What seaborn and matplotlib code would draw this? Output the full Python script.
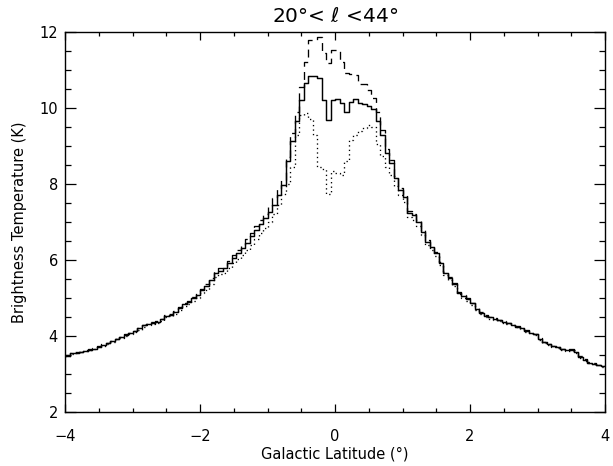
import numpy as np
import pandas as pd
import matplotlib
matplotlib.use("Agg")
import matplotlib.pyplot as plt
from matplotlib.ticker import MultipleLocator
import seaborn as sns

# Latitude profile binned in 4-arcmin steps from b = -4 to +4 deg (120 bins)
lat_min, lat_max, n_bins = -4.0, 4.0, 120

# Brightness temperature (K) per latitude bin
temp_solid = [
    3.48, 3.54, 3.56, 3.59, 3.61, 3.64, 3.67, 3.72, 3.77, 3.81,
    3.86, 3.93, 3.97, 4.03, 4.08, 4.13, 4.20, 4.28, 4.31, 4.34,
    4.38, 4.44, 4.53, 4.56, 4.64, 4.73, 4.84, 4.90, 4.99, 5.08,
    5.21, 5.32, 5.47, 5.67, 5.72, 5.78, 5.93, 6.05, 6.18, 6.32,
    6.46, 6.62, 6.80, 6.95, 7.10, 7.26, 7.46, 7.72, 7.98, 8.60,
    9.12, 9.65, 10.22, 10.66, 10.85, 10.84, 10.78, 10.21, 9.69, 10.22,
    10.23, 10.12, 9.89, 10.15, 10.25, 10.12, 10.11, 10.04, 9.98, 9.67,
    9.30, 8.82, 8.55, 8.15, 7.85, 7.67, 7.25, 7.18, 7.01, 6.74,
    6.48, 6.35, 6.18, 5.93, 5.65, 5.52, 5.37, 5.14, 5.05, 4.97,
    4.86, 4.72, 4.60, 4.52, 4.49, 4.46, 4.42, 4.38, 4.33, 4.30,
    4.25, 4.20, 4.13, 4.09, 4.04, 3.92, 3.83, 3.78, 3.74, 3.70,
    3.66, 3.63, 3.62, 3.58, 3.45, 3.37, 3.30, 3.27, 3.24, 3.20,
]

temp_dashed = [
    3.49, 3.54, 3.57, 3.59, 3.62, 3.65, 3.68, 3.73, 3.78, 3.82,
    3.87, 3.93, 3.98, 4.04, 4.09, 4.14, 4.21, 4.28, 4.32, 4.36,
    4.40, 4.46, 4.54, 4.58, 4.66, 4.76, 4.86, 4.93, 5.02, 5.12,
    5.25, 5.36, 5.52, 5.70, 5.78, 5.84, 5.98, 6.12, 6.26, 6.40,
    6.56, 6.72, 6.90, 7.06, 7.22, 7.40, 7.62, 7.86, 8.10, 8.72,
    9.35, 9.90, 10.55, 11.20, 11.78, 11.80, 11.88, 11.45, 11.18, 11.52,
    11.53, 11.22, 10.92, 10.90, 10.88, 10.62, 10.62, 10.48, 10.26, 9.90,
    9.42, 8.92, 8.62, 8.22, 7.90, 7.70, 7.30, 7.22, 7.04, 6.78,
    6.52, 6.38, 6.21, 5.96, 5.68, 5.55, 5.40, 5.17, 5.08, 5.00,
    4.88, 4.74, 4.62, 4.54, 4.50, 4.47, 4.43, 4.40, 4.35, 4.31,
    4.27, 4.21, 4.15, 4.10, 4.06, 3.94, 3.85, 3.79, 3.75, 3.71,
    3.67, 3.64, 3.66, 3.63, 3.48, 3.39, 3.32, 3.28, 3.25, 3.21,
]

temp_dotted = [
    3.47, 3.53, 3.55, 3.58, 3.60, 3.63, 3.66, 3.70, 3.75, 3.80,
    3.84, 3.91, 3.95, 4.01, 4.06, 4.11, 4.17, 4.25, 4.28, 4.31,
    4.35, 4.40, 4.49, 4.52, 4.59, 4.68, 4.78, 4.84, 4.92, 5.00,
    5.12, 5.22, 5.36, 5.55, 5.62, 5.66, 5.80, 5.92, 6.02, 6.14,
    6.26, 6.40, 6.55, 6.70, 6.85, 7.00, 7.20, 7.45, 7.75, 8.00,
    8.45, 9.30, 9.82, 9.88, 9.70, 9.30, 8.45, 8.40, 7.75, 8.35,
    8.30, 8.25, 8.60, 9.15, 9.28, 9.40, 9.48, 9.56, 9.50, 9.05,
    8.75, 8.45, 8.25, 7.95, 7.70, 7.52, 7.12, 7.05, 6.90, 6.65,
    6.40, 6.27, 6.10, 5.86, 5.60, 5.47, 5.32, 5.10, 5.01, 4.93,
    4.82, 4.69, 4.57, 4.49, 4.46, 4.43, 4.39, 4.35, 4.31, 4.28,
    4.23, 4.18, 4.11, 4.07, 4.02, 3.90, 3.81, 3.76, 3.72, 3.68,
    3.64, 3.61, 3.60, 3.56, 3.43, 3.35, 3.29, 3.26, 3.23, 3.19,
]

x_ticks = [-4, -2, 0, 2, 4]
y_ticks = [2, 4, 6, 8, 10, 12]

sns.set_theme(style="ticks")
plt.rcParams["font.family"] = ["DejaVu Sans"]

edges = np.linspace(lat_min, lat_max, n_bins + 1)

def step_frame(values):
    # histogram-style outline: each value held across its bin
    return pd.DataFrame({"lat": edges, "tb": list(values) + [values[-1]]})

fig = plt.figure(figsize=(6.13, 4.66), dpi=100)
ax = fig.add_axes([65 / 613, 54 / 466, 540 / 613, 380 / 466])

common = dict(x="lat", y="tb", color="black", drawstyle="steps-post",
              estimator=None, sort=False, ax=ax)
sns.lineplot(data=step_frame(temp_dotted), linewidth=0.95,
             linestyle=(0, (1, 2.4)), **common)
sns.lineplot(data=step_frame(temp_dashed), linewidth=0.95,
             linestyle=(0, (6, 4)), **common)
sns.lineplot(data=step_frame(temp_solid), linewidth=1.05,
             linestyle="-", **common)

ax.set_xlim(lat_min, lat_max)
ax.set_ylim(2, 12)
ax.set_xticks(x_ticks)
ax.set_yticks(y_ticks)
ax.xaxis.set_minor_locator(MultipleLocator(0.5))
ax.yaxis.set_minor_locator(MultipleLocator(0.5))
ax.set_xticklabels([f"{t:d}".replace("-", "\u2212") for t in x_ticks])
ax.set_yticklabels([f"{t:d}" for t in y_ticks])

ax.tick_params(which="both", direction="in", top=True, right=True,
               color="black", width=0.9, labelsize=10.5, labelcolor="black")
ax.tick_params(axis="x", which="major", length=6, pad=12)
ax.tick_params(axis="x", which="minor", length=3)
ax.tick_params(axis="y", which="major", length=8, pad=5)
ax.tick_params(axis="y", which="minor", length=4)
for side in ax.spines.values():
    side.set_color("black")
    side.set_linewidth(1.0)

ax.set_xlabel("Galactic Latitude (\u00b0)", fontsize=10.5, color="black", labelpad=2)
ax.set_ylabel("Brightness Temperature (K)", fontsize=10.5, color="black", labelpad=9)
ax.set_title("20\u00b0< $\\ell$ <44\u00b0", fontsize=14.5, color="black", pad=7)

fig.savefig("out.png", dpi=100, facecolor="white")
